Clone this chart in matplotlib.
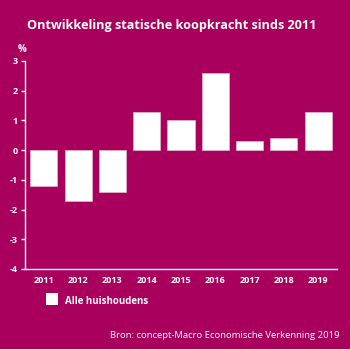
import matplotlib.pyplot as plt
import matplotlib.patches as mpatches

# Statische koopkracht, alle huishoudens (% per jaar)
years = ['2011', '2012', '2013', '2014', '2015', '2016', '2017', '2018', '2019']
values = [-1.2, -1.7, -1.4, 1.3, 1.0, 2.6, 0.3, 0.4, 1.3]
yticks = [3, 2, 1, 0, -1, -2, -3, -4]

bg = '#a8005c'
fg = 'white'
plt.rcParams['font.family'] = ['Open Sans', 'DejaVu Sans']

fig = plt.figure(figsize=(3.5, 3.49), dpi=100, facecolor=bg)
ax = fig.add_axes([25 / 350, 1 - 269 / 349, 312 / 350, 208 / 349])
ax.set_facecolor(bg)

ax.bar(range(len(years)), values, width=0.79, color=fg, edgecolor='#e8c8d8', linewidth=0.4)

ax.set_xlim(-0.55, len(years) - 0.45)
ax.set_ylim(-4, 3)
ax.set_yticks(yticks)
ax.set_yticklabels([str(t) for t in yticks])
ax.set_xticks(range(len(years)))
ax.set_xticklabels(years)

for side in ['top', 'right']:
    ax.spines[side].set_visible(False)
for side in ['left', 'bottom']:
    ax.spines[side].set_color(fg)
    ax.spines[side].set_linewidth(1.0)

ax.tick_params(axis='y', colors=fg, length=3, width=1.0, pad=2, labelsize=6.5)
ax.tick_params(axis='x', colors=fg, length=0, pad=5, labelsize=6.5)
for lbl in ax.get_xticklabels() + ax.get_yticklabels():
    lbl.set_fontweight('bold')

fig.text(0.49, 1 - 25 / 349, 'Ontwikkeling statische koopkracht sinds 2011',
         ha='center', va='center', color=fg, fontsize=9.1, fontweight='bold')
fig.text(22 / 350, 1 - 50 / 349, '%', ha='center', va='center', color=fg,
         fontsize=7, fontweight='bold')

# legend drawn by hand: white square plus label
fig.patches.append(mpatches.Rectangle((46 / 350, 1 - 305 / 349), 12 / 350, 12 / 349,
                                      transform=fig.transFigure, facecolor=fg,
                                      edgecolor='none'))
fig.text(65 / 350, 1 - 301 / 349, 'Alle huishoudens', ha='left', va='center',
         color=fg, fontsize=7, fontweight='bold')

fig.text(340 / 350, 1 - 336 / 349, 'Bron: concept-Macro Economische Verkenning 2019',
         ha='right', va='center', color=fg, fontsize=6.8)

fig.savefig('out.png', dpi=100, facecolor=bg)
